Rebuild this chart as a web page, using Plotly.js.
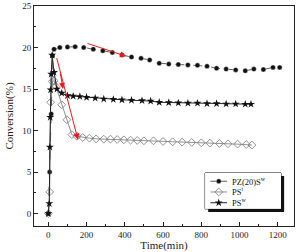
<!DOCTYPE html>
<html>
<head>
<meta charset="utf-8">
<script src="https://cdn.plot.ly/plotly-3.0.1.min.js"></script>
<style>html,body{margin:0;padding:0;background:#fff;}#chart{width:299px;height:252px;}</style>
</head>
<body>
<div id="chart"></div>
<script>
// Conversion over time for three catalysts
const seriesNames = ['PZ(20)S<sup>w</sup>', 'PS<sup>t</sup>', 'PS<sup>w</sup>'];

const pzTime = [0, 7, 15, 22, 30, 60, 100, 140, 185, 235, 285, 335, 385, 435, 485, 530, 580, 630, 680, 730, 780, 830, 880, 930, 980, 1030, 1075, 1125, 1175, 1210];
const pzConv = [0, 5.0, 12.0, 19.0, 19.8, 20.0, 20.05, 20.1, 20.0, 19.8, 19.6, 19.4, 19.1, 18.85, 18.7, 18.5, 18.1, 18.0, 17.95, 17.9, 17.85, 17.75, 17.5, 17.4, 17.3, 17.2, 17.4, 17.35, 17.6, 17.6];

const pstTime = [0, 7, 12, 20, 30, 40, 70, 97, 123, 150, 180, 215, 250, 290, 325, 360, 395, 430, 465, 500, 550, 600, 650, 700, 750, 800, 845, 895, 940, 990, 1035, 1065];
const pstConv = [0, 2.6, 13.4, 15.9, 16.0, 15.3, 13.1, 11.3, 9.5, 9.3, 9.16, 9.08, 9.0, 8.96, 8.96, 8.92, 8.88, 8.84, 8.8, 8.76, 8.76, 8.68, 8.64, 8.6, 8.56, 8.52, 8.48, 8.44, 8.4, 8.36, 8.32, 8.25];

const pswTime = [0, 5, 8, 10, 12, 15, 20, 30, 45, 70, 100, 130, 165, 200, 245, 290, 340, 385, 435, 490, 535, 580, 630, 680, 730, 780, 830, 880, 930, 980, 1030, 1060];
const pswConv = [0, 1.2, 8.0, 11.6, 14.9, 16.8, 19.1, 17.0, 15.0, 14.5, 14.2, 14.15, 14.1, 14.0, 13.9, 13.8, 13.75, 13.7, 13.65, 13.6, 13.55, 13.4, 13.37, 13.33, 13.3, 13.3, 13.25, 13.25, 13.2, 13.2, 13.17, 13.17];

// Trend arrows: [tailTime, tailConv, headTime, headConv]
const arrows = [
  [197, 20.55, 407, 18.95],
  [42, 18.9, 155, 8.9],
  [62, 17.0, 77, 15.0]
];

const serif = 'Liberation Serif, Times New Roman, serif';

// Per-series styling
const styles = [
  {line: {color: '#333', width: 0.8, dash: 'dash'},
   marker: {symbol: 'circle', size: 5, color: '#111', line: {color: '#fff', width: 0.4}}},
  {line: {color: '#777', width: 0.8},
   marker: {symbol: 'diamond-open', size: 6, color: '#777', line: {width: 0.8}}},
  {line: {color: '#222', width: 1},
   marker: {symbol: 'star', size: 6, color: '#111'}}
];

const dataSets = [[pzTime, pzConv], [pstTime, pstConv], [pswTime, pswConv]];

const traces = dataSets.map((d, i) => ({
  x: d[0], y: d[1], name: seriesNames[i], mode: 'lines+markers',
  line: styles[i].line, marker: styles[i].marker, showlegend: false
}));

// Compact key drawn in its own small axis box (x2/y2 span the key frame)
const keyRows = [0.77, 0.47, 0.17];
const keySpan = [0.07, 0.29];
const keyText = 0.33;
keyRows.forEach((ry, i) => {
  traces.push({
    x: keySpan, y: [ry, ry], xaxis: 'x2', yaxis: 'y2', mode: 'lines',
    showlegend: false, line: Object.assign({}, styles[i].line, {dash: 'solid'})
  });
  traces.push({
    x: [(keySpan[0] + keySpan[1]) / 2], y: [ry], xaxis: 'x2', yaxis: 'y2', mode: 'markers',
    showlegend: false, marker: styles[i].marker
  });
});

const annotations = arrows.map(a => ({
  x: a[2], y: a[3], ax: a[0], ay: a[1],
  xref: 'x', yref: 'y', axref: 'x', ayref: 'y',
  text: '', showarrow: true, arrowhead: 2, arrowsize: 1.2,
  arrowwidth: 1, arrowcolor: '#e8191c'
}));
keyRows.forEach((ry, i) => {
  annotations.push({
    x: keyText, y: ry, xref: 'x2', yref: 'y2', xanchor: 'left', yanchor: 'middle',
    text: seriesNames[i], showarrow: false,
    font: {family: serif, size: 8.5, color: '#111'}
  });
});

const axisCommon = {
  showline: true, linecolor: '#222', linewidth: 1, mirror: true,
  ticks: 'inside', ticklen: 4, tickcolor: '#222', showgrid: false, zeroline: false,
  tickfont: {family: serif, size: 9, color: '#222'}
};

// Key frame position (paper units) and its drop shadow offset
const keyX = [0.658, 0.950];
const keyY = [0.078, 0.241];
const shadowDx = 0.012, shadowDy = 0.014;

const layout = {
  width: 299, height: 252,
  margin: {l: 34, r: 5, t: 6, b: 26},
  paper_bgcolor: '#fff', plot_bgcolor: '#fff',
  showlegend: false,
  xaxis: Object.assign({}, axisCommon, {
    range: [-75, 1285], tickvals: [0, 200, 400, 600, 800, 1000, 1200],
    minor: {dtick: 100, tick0: 0, ticks: 'inside', ticklen: 2, tickcolor: '#222'},
    title: {text: 'Time(min)', font: {family: serif, size: 11, color: '#222'}, standoff: 4}
  }),
  yaxis: Object.assign({}, axisCommon, {
    range: [-1.5, 25], tickvals: [0, 5, 10, 15, 20, 25],
    minor: {dtick: 2.5, tick0: 0, ticks: 'inside', ticklen: 2, tickcolor: '#222'},
    title: {text: 'Conversion(%)', font: {family: serif, size: 11, color: '#222'}, standoff: 6}
  }),
  xaxis2: {domain: keyX, range: [0, 1], visible: false, fixedrange: true, anchor: 'y2'},
  yaxis2: {domain: keyY, range: [0, 1], visible: false, fixedrange: true, anchor: 'x2'},
  shapes: [
    {type: 'rect', xref: 'paper', yref: 'paper', layer: 'below',
     x0: keyX[0] + shadowDx, x1: keyX[1] + shadowDx, y0: keyY[0] - shadowDy, y1: keyY[1] - shadowDy,
     fillcolor: '#111', line: {width: 0}},
    {type: 'rect', xref: 'paper', yref: 'paper', layer: 'below',
     x0: keyX[0], x1: keyX[1], y0: keyY[0], y1: keyY[1],
     fillcolor: '#fff', line: {color: '#111', width: 1}}
  ],
  annotations: annotations
};

Plotly.newPlot('chart', traces, layout, {displayModeBar: false, staticPlot: true});
</script>
</body>
</html>
